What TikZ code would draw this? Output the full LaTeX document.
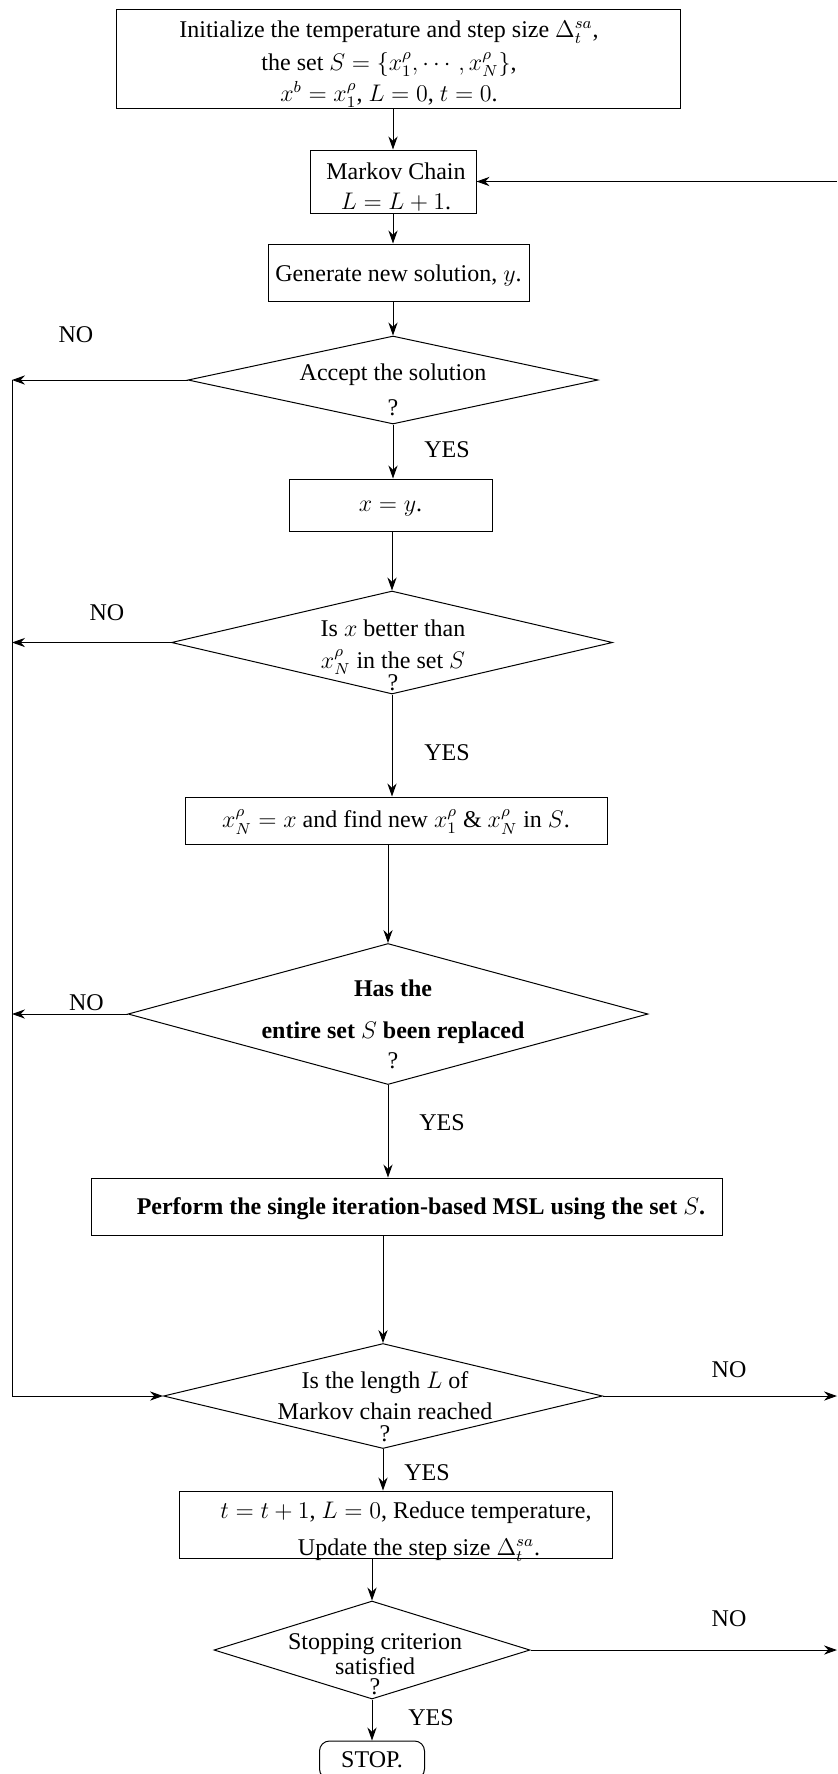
\documentclass[tikz,border=0pt,12pt]{standalone}
\usepackage{amsmath}
\usepackage{amssymb}
\usepackage{fontspec}
\setmainfont{Liberation Serif}
\usetikzlibrary{shapes.geometric, arrows.meta}

\begin{document}
\begin{tikzpicture}[x = 0.5pt, y = -0.5pt, line width = 0.5pt,
    box/.style = {draw, rectangle, inner sep = 2pt, align = center},
    dec/.style = {draw, diamond, inner sep = 0pt},
    dtext/.style = {align = center, inner sep = 0pt},
    lbl/.style = {inner sep = 0pt},
    arr/.style = {-{Stealth[length = 6.5pt, width = 4.6pt]}}]
    \useasboundingbox (0,0) rectangle (837,1774);
    \coordinate (rail) at (12,385);
    \coordinate (edge) at (837,0);

    \node[box, minimum width = 282pt, minimum height = 49.5pt] (init) at (398,59) {};
    \node[dtext] (init-t) at (389,64)
        {Initialize the temperature and step size $\Delta_t^{sa}$,\\[2pt]
         the set $S=\{x_1^{\rho},\cdots,x_N^{\rho}\}$,\\[1pt]
         $x^b=x_1^{\rho}$, $L=0$, $t=0$.};
    \node[box, minimum width = 83pt, minimum height = 31.5pt] (markov) at (393,181.5) {};
    \node[dtext] (markov-t) at (396,187.5) {Markov Chain\\[0.5pt] $L=L+1$.};
    \node[box, text height = 11.7pt, minimum width = 130.5pt, minimum height = 28.5pt] (gen) at (398.5,272.5)
        {Generate new solution, $y$.};
    \node[dec, minimum width = 205pt, minimum height = 44pt] (acc) at (393,380) {};
    \node[dtext] (acc-t) at (393,389.5) {Accept the solution\\[3pt] ?};
    \node[box, text height = 9.2pt, minimum width = 101.5pt, minimum height = 26pt] (xy) at (390.5,505) {$x=y$.};
    \node[dec, minimum width = 220.5pt, minimum height = 51.5pt] (better) at (392,642.5) {};
    \node[dtext] (better-t) at (393,655)
        {Is $x$ better than\\[1.5pt] $x_N^{\rho}$ in the set $S$\\[-3.5pt] ?};
    \node[box, text height = 10.5pt, minimum width = 211pt, minimum height = 23.5pt] (newx) at (396,820.5)
        {$x_N^{\rho}=x$ and find new $x_1^{\rho}$ \& $x_N^{\rho}$ in $S$.};
    \node[dec, minimum width = 260pt, minimum height = 70.5pt] (repl) at (388,1014) {};
    \node[dtext] (repl-t) at (393,1024)
        {\textbf{Has the}\\[6.5pt] \textbf{entire set $S$ been replaced}\\[0.5pt] ?};
    \node[box, text height = 11pt, minimum width = 315.5pt, minimum height = 28.5pt] (msl) at (406.5,1206.5)
        {\hspace*{14.5pt}\textbf{Perform the single iteration-based MSL using the set $S$.}};
    \node[dec, minimum width = 219.5pt, minimum height = 52.5pt] (chain) at (383,1396) {};
    \node[dtext] (chain-t) at (385,1406.5)
        {Is the length $L$ of\\[1pt] Markov chain reached\\[-3.5pt] ?};
    \node[box, minimum width = 216.5pt, minimum height = 33.5pt] (upd) at (395.5,1524.5) {};
    \node[dtext] (upd-t) at (395.5,1531.5)
        {\hspace*{10.5pt}$t=t+1$, $L=0$, Reduce temperature,\\[4pt]
         \hspace*{23.5pt}Update the step size $\Delta_t^{sa}$.};
    \node[dec, minimum width = 158pt, minimum height = 49pt] (crit) at (372,1650) {};
    \node[dtext] (crit-t) at (375,1664.5) {Stopping criterion\\[-2pt] satisfied\\[-4.5pt] ?};
    \node[box, rounded corners = 5pt, minimum width = 52.5pt, minimum height = 19pt] (stop) at (372,1760) {STOP.};

    % branch labels
    \node[lbl] (no1) at (76,335) {NO};
    \node[lbl] (no2) at (107,613) {NO};
    \node[lbl] (no3) at (86.5,1003) {NO};
    \node[lbl] (no4) at (729,1370) {NO};
    \node[lbl] (no5) at (729,1619) {NO};
    \node[lbl] (yes1) at (447,450) {YES};
    \node[lbl] (yes2) at (447,753) {YES};
    \node[lbl] (yes3) at (442,1123) {YES};
    \node[lbl] (yes4) at (427,1473) {YES};
    \node[lbl] (yes5) at (431,1718) {YES};

    \draw[arr] (init.south -| markov) -- (markov.north);
    \draw[arr] (markov.south) -- (markov.south |- gen.north);
    \draw[arr] (acc |- gen.south) -- (acc.north);
    \draw[arr] (acc.south) -- (acc.south |- xy.north);
    \draw[arr] (better |- xy.south) -- (better.north);
    \draw[arr] (better.south) -- (better.south |- newx.north);
    \draw[arr] (repl |- newx.south) -- (repl.north);
    \draw[arr] (repl.south) -- (repl.south |- msl.north);
    \draw[arr] (chain |- msl.south) -- (chain.north);
    \draw[arr] (chain.south) -- (chain.south |- upd.north);
    \draw[arr] (crit |- upd.south) -- (crit.north);
    \draw[arr] (crit.south) -- (stop.north);
    % NO branches
    \draw[arr] (acc.west) -- (acc.west -| rail);
    \draw[arr] (better.west) -- (better.west -| rail);
    \draw[arr] (repl.west) -- (repl.west -| rail);
    \draw[arr] (acc.west -| rail) -- (rail |- chain.west) -- (chain.west);
    \draw[arr] (chain.east) -- (chain.east -| edge);
    \draw[arr] (crit.east) -- (crit.east -| edge);
    \draw[arr] (markov.east -| edge) -- (markov.east);
\end{tikzpicture}
\end{document}
